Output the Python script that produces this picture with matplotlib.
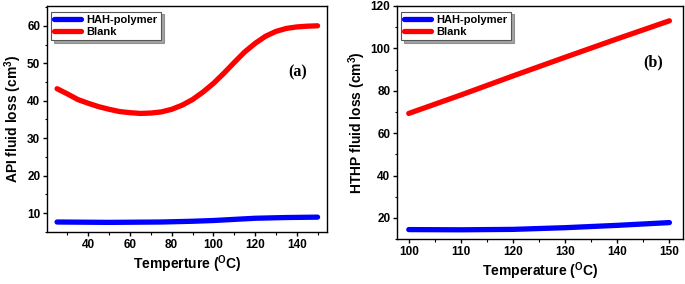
import matplotlib
matplotlib.use("Agg")
import matplotlib.pyplot as plt
from matplotlib.ticker import MultipleLocator

plt.rcParams['font.family'] = ['Liberation Sans', 'DejaVu Sans']
plt.rcParams['font.weight'] = 'bold'
plt.rcParams['mathtext.fontset'] = 'custom'
plt.rcParams['mathtext.rm'] = 'Liberation Sans:bold'
plt.rcParams['mathtext.bf'] = 'Liberation Sans:bold'
plt.rcParams['mathtext.it'] = 'Liberation Sans:bold'

# Panel (a): API fluid loss
temp_a_blank = [25, 30, 35, 40, 45, 50, 55, 60, 65, 70, 75, 80, 85, 90, 95,
                100, 105, 110, 115, 120, 125, 130, 135, 140, 145, 150]
api_blank = [43.2, 41.8, 40.3, 39.3, 38.4, 37.7, 37.1, 36.8, 36.6, 36.7, 37.0, 37.7,
             38.8, 40.3, 42.3, 44.6, 47.3, 50.2, 53.0, 55.3, 57.2, 58.5, 59.3, 59.7,
             59.9, 60.0]
temp_a_hah = [25, 50, 75, 90, 100, 110, 120, 135, 150]
api_hah = [7.6, 7.5, 7.6, 7.8, 8.0, 8.3, 8.6, 8.8, 8.9]

# Panel (b): HTHP fluid loss
temp_b = [100, 110, 120, 130, 140, 150]
hthp_blank = [69.3, 78.0, 87.0, 95.8, 104.5, 113.0]
hthp_hah = [14.5, 14.4, 14.6, 15.4, 16.5, 17.8]

series_names = ['HAH-polymer', 'Blank']

fig = plt.figure(figsize=(6.85, 2.84), dpi=100)
ax1 = fig.add_axes([0.069, 0.184, 0.408, 0.795])
ax2 = fig.add_axes([0.58, 0.158, 0.417, 0.821])

lw = 3.8

def style(ax):
    for s in ax.spines.values():
        s.set_linewidth(1.0)
        s.set_color('black')
    ax.tick_params(axis='both', which='major', direction='out', length=3, width=1,
                   labelsize=8.5, pad=2)
    ax.tick_params(axis='both', which='minor', direction='out', length=1.8, width=0.8)
    for lab in ax.get_xticklabels() + ax.get_yticklabels():
        lab.set_fontweight('bold')

ax1.plot(temp_a_hah, api_hah, color='#0000ff', lw=lw, solid_capstyle='round',
         label=series_names[0])
ax1.plot(temp_a_blank, api_blank, color='#ff0000', lw=lw, solid_capstyle='round',
         label=series_names[1])
ax1.set_xlim(20.3, 154.4)
ax1.set_ylim(5.0, 65.3)
ax1.xaxis.set_major_locator(MultipleLocator(20))
ax1.xaxis.set_minor_locator(MultipleLocator(10))
ax1.yaxis.set_major_locator(MultipleLocator(10))
ax1.yaxis.set_minor_locator(MultipleLocator(5))
ax1.set_xlabel(r'Temperture ($^{\mathbf{O}}$C)', fontsize=10, fontweight='bold', labelpad=2)
ax1.set_ylabel(r'API fluid loss (cm$^{\mathbf{3}}$)', fontsize=10, fontweight='bold', labelpad=2)
ax1.text(140.5, 47.5, '(a)', fontsize=11.5, fontweight='bold', family='Liberation Serif',
         ha='center', va='center')
style(ax1)

ax2.plot(temp_b, hthp_hah, color='#0000ff', lw=lw, solid_capstyle='round',
         label=series_names[0])
ax2.plot(temp_b, hthp_blank, color='#ff0000', lw=lw, solid_capstyle='round',
         label=series_names[1])
ax2.set_xlim(97.8, 152.6)
ax2.set_ylim(10, 120)
ax2.xaxis.set_major_locator(MultipleLocator(10))
ax2.xaxis.set_minor_locator(MultipleLocator(5))
ax2.yaxis.set_major_locator(MultipleLocator(20))
ax2.yaxis.set_minor_locator(MultipleLocator(10))
ax2.set_xlabel(r'Temperature ($^{\mathbf{O}}$C)', fontsize=10, fontweight='bold', labelpad=2)
ax2.set_ylabel(r'HTHP fluid loss (cm$^{\mathbf{3}}$)', fontsize=10, fontweight='bold', labelpad=2)
ax2.text(146.8, 93.6, '(b)', fontsize=11.5, fontweight='bold', family='Liberation Serif',
         ha='center', va='center')
style(ax2)

for ax in (ax1, ax2):
    leg = ax.legend(loc='upper left', bbox_to_anchor=(0.005, 0.985),
                    prop={'weight': 'bold', 'size': 8}, frameon=True, fancybox=False,
                    shadow=True, handlelength=2.4, handletextpad=0.5, borderpad=0.3,
                    labelspacing=0.15, borderaxespad=0.2)
    leg.get_frame().set_edgecolor('#555555')
    leg.get_frame().set_linewidth(0.8)

fig.savefig('out.png', dpi=100)
